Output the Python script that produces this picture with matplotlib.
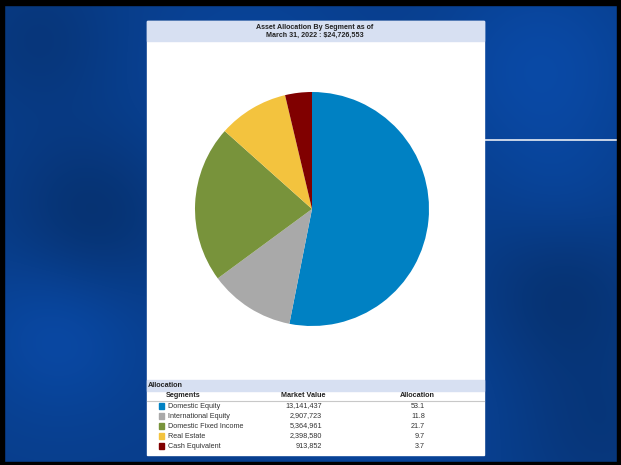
import numpy as np
import matplotlib.pyplot as plt
from matplotlib.patches import Rectangle

plt.rcParams['font.family'] = ['Liberation Sans', 'DejaVu Sans']

# data
segments = ['Domestic Equity', 'International Equity', 'Domestic Fixed Income',
            'Real Estate', 'Cash Equivalent']
market_values = [13141437, 2907723, 5364961, 2398580, 913852]
allocation = [53.1, 11.8, 21.7, 9.7, 3.7]
colors = ['#0081C3', '#A9A9A9', '#78933B', '#F3C33E', '#800000']
title = 'Asset Allocation By Segment as of\nMarch 31, 2022 : $24,726,553'

W, H = 621, 465
fig = plt.figure(figsize=(W / 100, H / 100), dpi=100)


def fx(x):
    return x / W


def fy(y):
    return 1 - y / H


# background slide (soft blue clouds)
bg = fig.add_axes([0, 0, 1, 1])
yy, xx = np.mgrid[0:H, 0:W]
shade = np.zeros((H, W))
for cx, cy, s, a in [(90, 220, 60, -0.2), (60, 330, 60, 0.18), (540, 70, 70, 0.18),
                     (560, 290, 60, -0.18), (250, 80, 80, 0.1), (380, 400, 80, 0.12),
                     (40, 40, 50, -0.12), (600, 430, 60, -0.12), (560, 200, 50, 0.08)]:
    shade += a * np.exp(-((xx - cx) ** 2 + (yy - cy) ** 2) / (2 * s ** 2))
base = np.array([8, 62, 140]) / 255
img = np.clip(base[None, None, :] * (1 + shade[:, :, None]), 0, 1)
bg.imshow(img, extent=[0, W, H, 0], aspect='auto')
bg.set_xlim(0, W)
bg.set_ylim(H, 0)
bg.axis('off')

# black frame
for r in [(0, 0, W, 5), (0, 0, 4, H), (W - 4, 0, 4, H), (0, H - 3, W, 3)]:
    bg.add_patch(Rectangle((r[0], r[1]), r[2], r[3], color='black', zorder=3))

# white line on the right
bg.plot([484, 617], [140, 140], color='#E8ECF4', lw=1.2, zorder=2)

# white panel
bg.add_patch(Rectangle((147, 21), 337, 434, color='white', zorder=2))
bg.add_patch(Rectangle((147, 21), 337, 20, color='#D7E0F2', zorder=2))
bg.add_patch(Rectangle((147, 380), 337, 11, color='#D7E0F2', zorder=2))
bg.plot([147, 484], [400.5, 400.5], color='#C8C8C8', lw=0.8, zorder=3)

bg.text(315, 31, title, ha='center', va='center', fontsize=5.1,
        fontweight='bold', color='#222222', linespacing=1.15, zorder=4)

# pie
pax = fig.add_axes([fx(195), fy(326), fx(234), 234 / H])
pax.pie(allocation, colors=colors, startangle=90, counterclock=False,
        wedgeprops=dict(linewidth=0))
pax.set_xlim(-1, 1)
pax.set_ylim(-1, 1)
pax.set_aspect('equal')

# table
fs = 5.2
bg.text(148, 385.5, 'Allocation', ha='left', va='center', fontsize=fs,
        fontweight='bold', color='#222222', zorder=4)
bg.text(183, 395.5, 'Segments', ha='center', va='center', fontsize=fs,
        fontweight='bold', color='#222222', zorder=4)
bg.text(303, 395.5, 'Market Value', ha='center', va='center', fontsize=fs,
        fontweight='bold', color='#222222', zorder=4)
bg.text(417, 395.5, 'Allocation', ha='center', va='center', fontsize=fs,
        fontweight='bold', color='#222222', zorder=4)
for i, (seg, mv, al, c) in enumerate(zip(segments, market_values, allocation, colors)):
    y = 406 + i * 10
    bg.add_patch(Rectangle((158.5, y - 2.8), 5.6, 5.6, color=c, zorder=4))
    bg.text(167.5, y, seg, ha='left', va='center', fontsize=fs,
            color='#333333', zorder=4)
    bg.text(322, y, f'{mv:,}', ha='right', va='center', fontsize=fs,
            color='#333333', zorder=4)
    bg.text(425, y, f'{al:.1f}', ha='right', va='center', fontsize=fs,
            color='#333333', zorder=4)

fig.savefig('out.png', dpi=100)
